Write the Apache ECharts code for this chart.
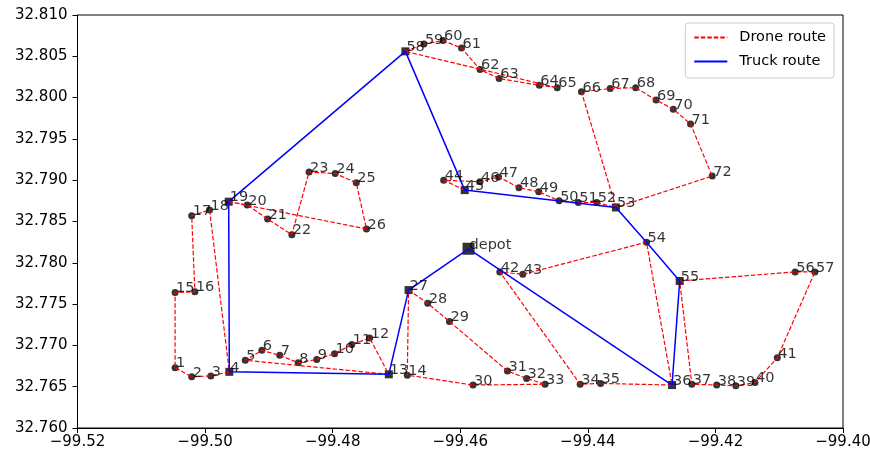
<!DOCTYPE html>
<html>
<head>
<meta charset="utf-8">
<script src="https://cdn.jsdelivr.net/npm/echarts@6/dist/echarts.min.js"></script>
<style>html,body{margin:0;padding:0;background:#fff}#c{width:870px;height:455px}</style>
</head>
<body>
<div id="c"></div>
<script>
// Node ids, longitudes, latitudes
const nodeIds = ['depot',1,2,3,4,5,6,7,8,9,10,11,12,13,14,15,16,17,18,19,20,21,22,23,24,25,26,27,28,29,30,31,32,33,34,35,36,37,38,39,40,41,42,43,44,45,46,47,48,49,50,51,52,53,54,55,56,57,58,59,60,61,62,63,64,65,66,67,68,69,70,71,72];
const lons = [-99.4587,
 -99.5047,-99.5021,-99.4991,-99.4962,-99.4937,-99.4911,-99.4883,-99.4854,-99.4825,-99.4797,
 -99.4770,-99.4742,-99.4712,-99.4683,-99.5047,-99.5016,-99.5021,-99.4993,-99.4963,-99.4934,
 -99.4902,-99.4864,-99.4837,-99.4796,-99.4763,-99.4747,-99.4681,-99.4651,-99.4617,-99.4580,
 -99.4526,-99.4496,-99.4467,-99.4412,-99.4380,-99.4268,-99.4237,-99.4198,-99.4168,-99.4138,
 -99.4103,-99.4538,-99.4502,-99.4626,-99.4593,-99.4569,-99.4540,-99.4508,-99.4477,-99.4445,
 -99.4415,-99.4386,-99.4356,-99.4308,-99.4256,-99.4075,-99.4044,-99.4686,-99.4657,-99.4627,
 -99.4598,-99.4569,-99.4539,-99.4476,-99.4448,-99.4410,-99.4365,-99.4325,-99.4293,-99.4266,
 -99.4239,-99.4205];
const lats = [32.7817,
 32.7673,32.7662,32.7663,32.7668,32.7682,32.7694,32.7688,32.7679,32.7683,32.7690,
 32.7701,32.7709,32.7665,32.7664,32.7764,32.7765,32.7857,32.7864,32.7874,32.7870,
 32.7853,32.7834,32.7910,32.7908,32.7897,32.7841,32.7767,32.7751,32.7729,32.7652,
 32.7669,32.7660,32.7653,32.7653,32.7654,32.7652,32.7653,32.7652,32.7651,32.7655,
 32.7685,32.7789,32.7786,32.7900,32.7888,32.7898,32.7904,32.7891,32.7886,32.7875,
 32.7873,32.7873,32.7867,32.7825,32.7778,32.7789,32.7789,32.8056,32.8065,32.8069,
 32.8060,32.8034,32.8023,32.8015,32.8012,32.8007,32.8011,32.8012,32.7997,32.7986,
 32.7968,32.7905];
const truckRoute = ['depot',27,13,4,19,58,45,53,54,55,36,'depot'];
const truckStops = [27,13,4,19,58,45,53,55,36];
const droneRoutes = [
  [4,3,2,1,15,16,17,18,4],
  [13,5,6,7,8,9,10,11,12,13],
  [19,20,21,22,23,24,25,26,19],
  [58,59,60,61,62,63,64,65,58],
  [53,66,67,68,69,70,71,72,53],
  [45,44,46,47,48,49,50,51,52,53],
  [27,28,29,31,32,33,30,14,27],
  [36,35,34,42,43,54,36],
  [55,56,57,41,40,39,38,37,55]
];
const xTicks = {min:-99.52, max:-99.40, step:0.02};
const yTicks = {min:32.76, max:32.81, step:0.005};

function pt(id){ const i = nodeIds.indexOf(id); return [lons[i], lats[i]]; }

const FONT = 'DejaVu Sans';
const series = [];
droneRoutes.forEach(r => series.push({
  type:'line', name:'Drone route', data:r.map(pt), symbol:'none', z:3, silent:true,
  lineStyle:{color:'#ff0000', width:1.2, type:[4.5,2]}, itemStyle:{color:'#ff0000'}
}));
series.push({
  type:'line', name:'Truck route', data:truckRoute.map(pt), symbol:'none', z:4, silent:true,
  lineStyle:{color:'#0000ff', width:1.5, type:'solid'}, itemStyle:{color:'#0000ff'}
});
// customer markers
const customers = nodeIds.filter(id => id !== 'depot' && truckStops.indexOf(id) < 0);
series.push({type:'scatter', data:customers.map(pt), symbol:'circle', symbolSize:7, z:2, silent:true,
  itemStyle:{color:'#000'}});
series.push({type:'scatter', data:truckStops.map(pt), symbol:'rect', symbolSize:8, z:2, silent:true,
  itemStyle:{color:'#000'}});
series.push({type:'scatter', data:[pt('depot')], symbol:'rect', symbolSize:12, z:2, silent:true,
  itemStyle:{color:'#000'}});
// labels
series.push({type:'scatter', data:nodeIds.map(id => ({value:pt(id), name:String(id)})), symbol:'circle', symbolSize:2, z:6, silent:true,
  itemStyle:{color:'rgba(0,0,0,0)'},
  label:{show:true, formatter:p=>p.name, position:[2,4], align:'left', verticalAlign:'bottom',
    fontFamily:FONT, fontSize:14.5, lineHeight:14, color:'#000'}});

const minus = s => s.replace('-', '\u2212');
const chart = echarts.init(document.getElementById('c'));
chart.setOption({
  animation:false,
  backgroundColor:'#fff',
  grid:{left:77.5, right:27, top:15, bottom:27, show:true, borderColor:'#000', borderWidth:1, backgroundColor:'transparent',
    containLabel:false, outerBoundsMode:'none'},
  legend:{
    right:36, top:23, orient:'vertical', itemWidth:33, itemHeight:14, itemGap:9,
    padding:[7,8,9,8], borderColor:'#cccccc', borderWidth:1, borderRadius:3, backgroundColor:'rgba(255,255,255,0.85)',
    itemStyle:{opacity:0},
    textStyle:{fontFamily:FONT, fontSize:14.5, color:'#000', padding:[0,0,0,7]},
    data:['Drone route','Truck route'], selectedMode:false
  },
  xAxis:{type:'value', min:xTicks.min, max:xTicks.max, interval:xTicks.step, splitLine:{show:false},
    axisLine:{show:true, onZero:false, lineStyle:{color:'#000', width:1}},
    axisTick:{show:true, inside:false, length:5, lineStyle:{color:'#000'}},
    axisLabel:{margin:7, fontFamily:FONT, fontSize:15, color:'#000', formatter:v=>minus(v.toFixed(2))}},
  yAxis:{type:'value', min:yTicks.min, max:yTicks.max, interval:yTicks.step, splitLine:{show:false},
    axisLine:{show:true, onZero:false, lineStyle:{color:'#000', width:1}},
    axisTick:{show:true, inside:false, length:5, lineStyle:{color:'#000'}},
    axisLabel:{margin:10, fontFamily:FONT, fontSize:15, color:'#000', formatter:v=>v.toFixed(3)}},
  series:series
});
</script>
</body>
</html>
